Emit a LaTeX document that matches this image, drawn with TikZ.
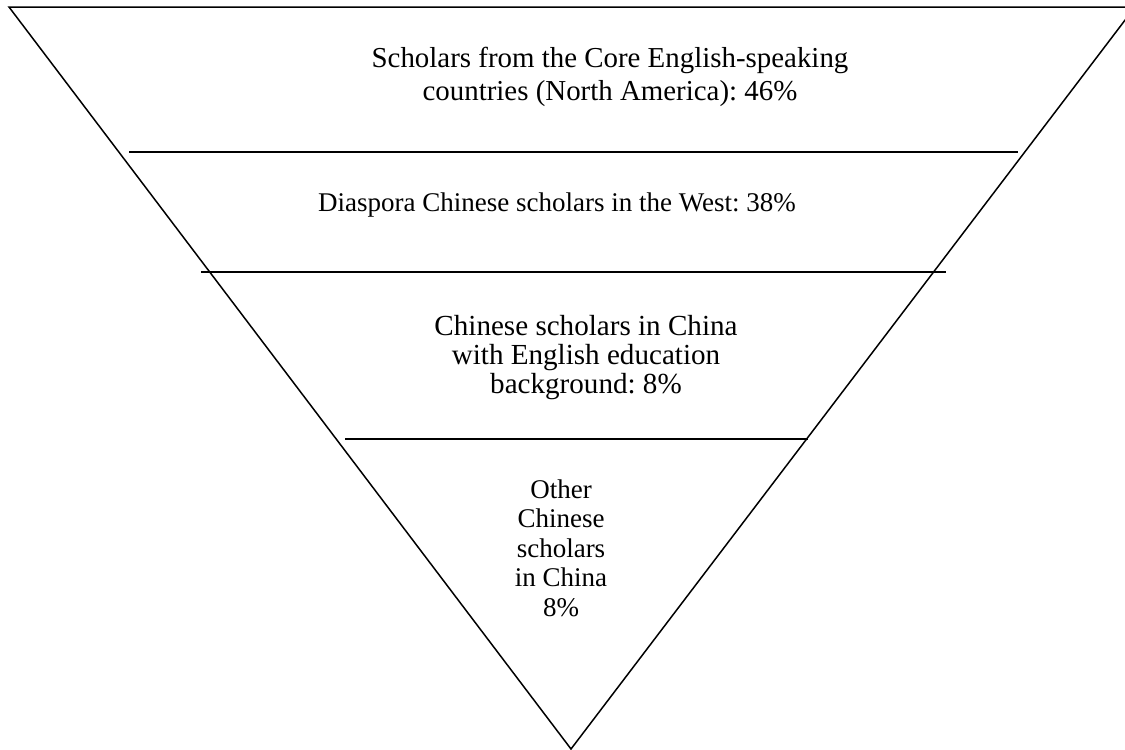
\documentclass[tikz,border=0pt]{standalone}
\usepackage{fontspec}
\setmainfont{Liberation Serif}
\frenchspacing
\begin{document}
\begin{tikzpicture}[x=0.5pt, y=-0.5pt,
    tri/.style={line width=0.75pt, line join=miter},
    bar/.style={line width=1pt},
    lbl/.style 2 args={align=center, inner sep=0pt, anchor=base, font=\fontsize{#1}{#2}\selectfont},
]
\useasboundingbox (0,0) rectangle (1125,750);
\clip (0,0) rectangle (1125,750);

% the funnel
\coordinate (L) at (9,7);
\coordinate (R) at (1135,7);
\coordinate (A) at (571,749);
\draw[tri] (L) -- (R) -- (A) -- cycle;

% dividing lines
\draw[bar] (129,152) -- (1018,152);
\draw[bar] (201,271.5) -- (946,271.5);
\draw[bar] (345,439) -- (808,439);

% tiers (anchored at the baseline of the last line)
\node[lbl={14.45}{16.75pt}] (core) at (610,100.5) {Scholars from the Core English-speaking\\countries (North America): 46\%};
\node[lbl={13.5}{14pt}] (diaspora) at (557,211) {Diaspora Chinese scholars in the West: 38\%};
\node[lbl={14.55}{14.35pt}] (china) at (586,393) {Chinese scholars in China\\with English education\\background: 8\%};
\node[lbl={13.5}{14.75pt}] (other) at (561,616) {Other\\Chinese\\scholars\\in China\\8\%};

\end{tikzpicture}
\end{document}
